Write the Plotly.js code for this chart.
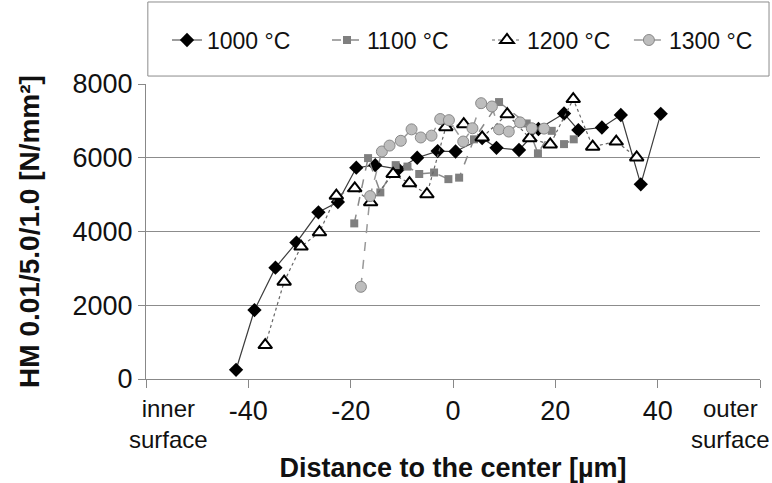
<!DOCTYPE html>
<html>
<head>
<meta charset="utf-8">
<script src="https://cdn.plot.ly/plotly-3.0.1.min.js"></script>
<style>html,body{margin:0;padding:0;background:#fff;}#chart{width:772px;height:483px;}</style>
</head>
<body>
<div id="chart"></div>
<script>
// ---- data ----
const seriesNames = ["1000 °C", "1100 °C", "1200 °C", "1300 °C"];

const x1000 = [-42.4, -38.8, -34.7, -30.6, -26.3, -22.5, -18.9, -15.2, -10.7, -7.0, -3.0, 0.5, 5.7, 8.5, 12.9, 16.7, 21.7, 24.5, 29.1, 32.8, 36.7, 40.6];
const y1000 = [250, 1870, 3020, 3700, 4520, 4800, 5730, 5800, 5690, 6000, 6180, 6170, 6530, 6270, 6210, 6780, 7200, 6750, 6820, 7160, 5280, 7190];

const x1100 = [-19.3, -16.6, -14.2, -11.2, -8.9, -6.6, -3.7, -0.9, 1.2, 4.1, 9.0, 14.4, 16.6, 19.3, 21.7, 23.6];
const y1100 = [4220, 5990, 5060, 5800, 5760, 5560, 5600, 5420, 5460, 6500, 7510, 6930, 6120, 6730, 6370, 6500];

const x1200 = [-36.7, -33.0, -29.7, -26.1, -22.8, -19.2, -16.1, -11.7, -8.5, -5.1, -1.4, 2.1, 5.7, 10.6, 15.0, 19.0, 23.5, 27.3, 31.9, 35.9];
const y1200 = [920, 2640, 3590, 3980, 4970, 5170, 4790, 5560, 5310, 5010, 6830, 6910, 6550, 7180, 6530, 6360, 7590, 6300, 6440, 6010];

const x1300 = [-18.0, -16.2, -13.9, -12.4, -10.2, -8.1, -6.3, -4.2, -2.5, -0.8, 2.0, 3.8, 5.5, 7.6, 9.0, 10.9, 13.1, 15.4, 17.8];
const y1300 = [2500, 4960, 6170, 6330, 6460, 6770, 6550, 6600, 7050, 7020, 6440, 6800, 7480, 7390, 6770, 6710, 6960, 6800, 6790];

const xTickVals = [-60, -40, -20, 0, 20, 40, 60];
const xTickText = ["", "-40", "-20", "0", "20", "40", ""];
const yTickVals = [0, 2000, 4000, 6000, 8000];
const edgeLabels = ["inner<br>surface", "outer<br>surface"];
const xTitle = "Distance to the center [µm]";
const yTitle = "HM 0.01/5.0/1.0 [N/mm²]";

// ---- chart ----
const FONT = "Liberation Sans, Arial, sans-serif";
const traces = [
  {x: x1000, y: y1000, name: seriesNames[0], mode: "lines+markers", legend: "legend",
   line: {color: "#3c3c3c", width: 1.2},
   marker: {symbol: "diamond", size: 11, color: "#000"}},
  {x: x1100, y: y1100, name: seriesNames[1], mode: "lines+markers", legend: "legend2",
   line: {color: "#8a8a8a", width: 1.5, dash: "dash"},
   marker: {symbol: "square", size: 8, color: "#7f7f7f"}},
  {x: x1200, y: y1200, name: seriesNames[2], mode: "lines+markers", legend: "legend3",
   line: {color: "#666", width: 1.2, dash: "dot"},
   marker: {symbol: "triangle-up", size: 12, color: "#fff", line: {color: "#000", width: 2}}},
  {x: x1300, y: y1300, name: seriesNames[3], mode: "lines+markers", legend: "legend4",
   line: {color: "#999", width: 1.5, dash: "dash"},
   marker: {symbol: "circle", size: 11, color: "#bdbdbd", line: {color: "#888", width: 1}}}
];

const legendCommon = {orientation: "h", xanchor: "left", y: 1.149, yanchor: "middle",
  font: {family: FONT, size: 23, color: "#111"},
  bgcolor: "rgba(0,0,0,0)", borderwidth: 0, tracegroupgap: 0};

const layout = {
  width: 772, height: 483,
  margin: {l: 146, r: 12, t: 84, b: 104},
  paper_bgcolor: "#fff", plot_bgcolor: "#fff",
  font: {family: FONT, size: 27, color: "#111"},
  showlegend: true,
  legend: Object.assign({}, legendCommon, {x: 0.0342}),
  legend2: Object.assign({}, legendCommon, {x: 0.2948}),
  legend3: Object.assign({}, legendCommon, {x: 0.5554}),
  legend4: Object.assign({}, legendCommon, {x: 0.7865}),
  xaxis: {range: [-60, 60], tickvals: xTickVals, ticktext: xTickText,
          showgrid: false, zeroline: false, showline: true, linecolor: "#888", linewidth: 1,
          ticks: "outside", ticklen: 8, tickcolor: "#888",
          tickfont: {family: FONT, size: 27, color: "#111"},
          title: {text: xTitle, font: {family: FONT, size: 27, color: "#111", weight: "bold"}, standoff: 36}},
  yaxis: {range: [0, 8000], tickvals: yTickVals,
          showgrid: true, gridcolor: "#8c8c8c", gridwidth: 1, zeroline: false,
          showline: true, linecolor: "#888", linewidth: 1,
          ticks: "outside", ticklen: 7, tickcolor: "#888",
          tickfont: {family: FONT, size: 27, color: "#111"},
          title: {text: yTitle, font: {family: FONT, size: 28, color: "#111", weight: "bold"}, standoff: 24}},
  shapes: [{type: "rect", xref: "paper", yref: "paper", x0: 0.003, x1: 1.0147, y0: 1.027, y1: 1.278,
            line: {color: "#8c8c8c", width: 1}, fillcolor: "rgba(0,0,0,0)"}],
  annotations: [
    {text: edgeLabels[0], x: -60, xref: "x", xshift: 22, y: 0, yref: "paper", yshift: -14,
     yanchor: "top", xanchor: "center", showarrow: false, align: "center",
     font: {family: FONT, size: 24, color: "#111"}},
    {text: edgeLabels[1], x: 60, xref: "x", xshift: -30, y: 0, yref: "paper", yshift: -14,
     yanchor: "top", xanchor: "center", showarrow: false, align: "center",
     font: {family: FONT, size: 24, color: "#111"}}
  ]
};

Plotly.newPlot("chart", traces, layout, {displayModeBar: false, staticPlot: true});
</script>
</body>
</html>
